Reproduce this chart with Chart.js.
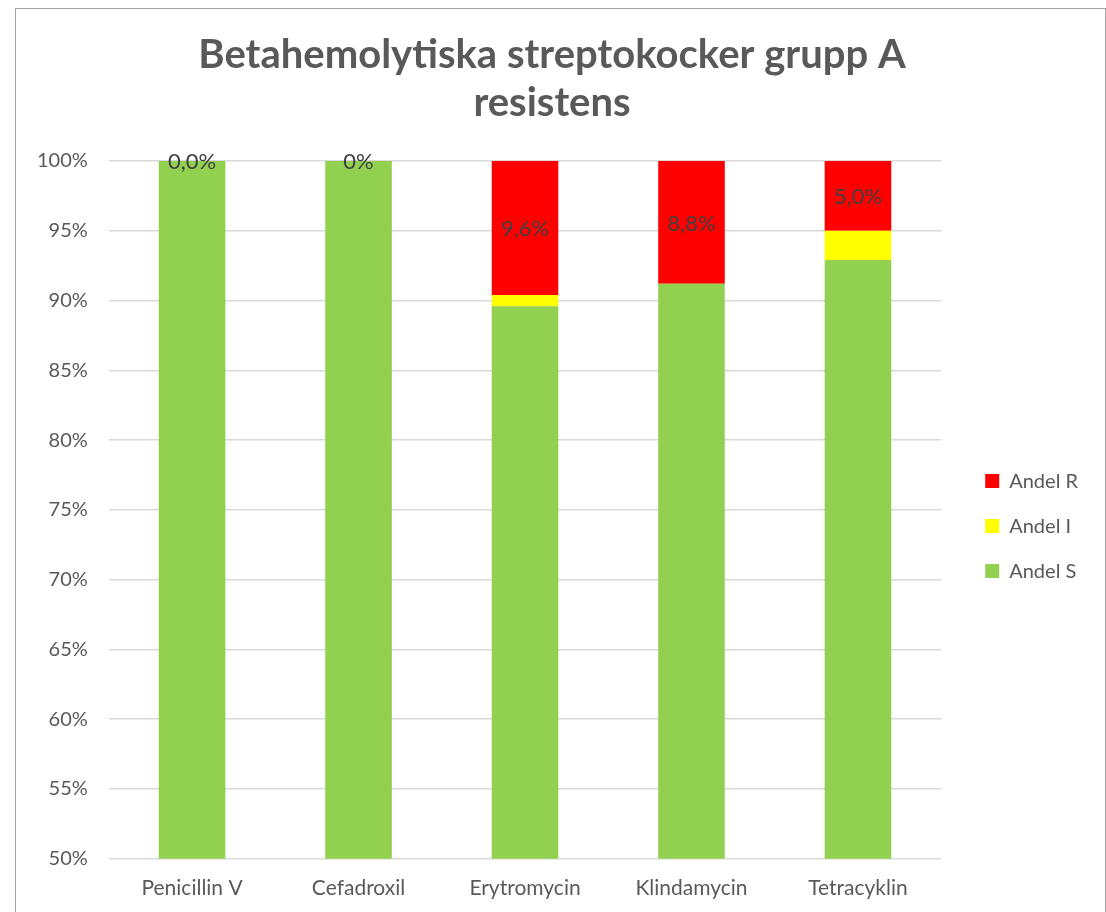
<!DOCTYPE html>
<html>
<head>
<meta charset="utf-8">
<script src="https://cdn.jsdelivr.net/npm/chart.js@4"></script>
<style>
  html, body { margin: 0; padding: 0; background: #fff; overflow: hidden; }
  #wrap {
    position: absolute; left: 15px; top: 8px;
    width: 1091px; height: 920px;
    border: 1px solid #a6a6a6; box-sizing: border-box;
  }
</style>
</head>
<body>
<div id="wrap"><canvas id="myChart"></canvas></div>
<script>
var categories = ["Penicillin V", "Cefadroxil", "Erytromycin", "Klindamycin", "Tetracyklin"];
var andelS = [100, 100, 89.6, 91.2, 92.9];
var andelI = [0, 0, 0.8, 0, 2.1];
var andelR = [0, 0, 9.6, 8.8, 5.0];
var rLabels = ["0,0%", "0%", "9,6%", "8,8%", "5,0%"];

var fontName = "Lato";
var textGray = "#595959";

// draws the value labels of the R series centered in its bars
var rLabelPlugin = {
  id: "rLabels",
  afterDatasetsDraw: function (chart) {
    var ctx = chart.ctx;
    var meta = chart.getDatasetMeta(2);
    ctx.save();
    ctx.font = "22px " + fontName;
    ctx.fillStyle = "#404040";
    ctx.textAlign = "center";
    ctx.textBaseline = "middle";
    meta.data.forEach(function (bar, i) {
      var y = (bar.y + bar.base) / 2;
      ctx.fillText(rLabels[i], bar.x, y + 1);
    });
    ctx.restore();
  }
};

var ctx = document.getElementById("myChart").getContext("2d");

var myChart = new Chart(ctx, {
  type: "bar",
  data: {
    labels: categories,
    datasets: [
      { label: "Andel S", data: andelS, backgroundColor: "#92d050" },
      { label: "Andel I", data: andelI, backgroundColor: "#ffff00" },
      { label: "Andel R", data: andelR, backgroundColor: "#ff0000" }
    ]
  },
  options: {
    responsive: true,
    maintainAspectRatio: false,
    animation: false,
    barPercentage: 0.4,
    categoryPercentage: 1,
    layout: { padding: { left: 0, right: 17, top: 0, bottom: 9 } },
    plugins: {
      title: {
        display: true,
        text: ["Betahemolytiska streptokocker grupp A", "resistens"],
        color: textGray,
        font: { family: fontName, size: 40, weight: "bold", lineHeight: 1.2 },
        padding: { top: 22, bottom: 34 }
      },
      legend: {
        position: "right",
        fullSize: false,
        reverse: true,
        title: { display: true, text: "", padding: { top: 18, bottom: 0 } },
        labels: {
          color: textGray,
          font: { family: fontName, size: 20 },
          boxWidth: 14,
          boxHeight: 14,
          padding: 25
        }
      },
      tooltip: { enabled: false }
    },
    scales: {
      x: {
        stacked: true,
        grid: { display: false, drawTicks: false },
        border: { display: false },
        ticks: { color: textGray, font: { family: fontName, size: 21 }, padding: 17 }
      },
      y: {
        stacked: true,
        min: 50,
        max: 100,
        border: { display: false },
        grid: { color: "#d9d9d9", lineWidth: 1.5, drawTicks: false },
        ticks: {
          stepSize: 5,
          color: textGray,
          font: { family: fontName, size: 20 },
          padding: 21,
          callback: function (v) { return v + "%"; }
        }
      },
      // empty spacer between the plot and the legend
      gap: {
        type: "linear",
        position: "right",
        display: true,
        grid: { display: false, drawTicks: false },
        border: { display: false },
        ticks: { display: false },
        afterFit: function (scale) { scale.width = 19; }
      }
    }
  },
  plugins: [rLabelPlugin]
});
</script>
</body>
</html>
